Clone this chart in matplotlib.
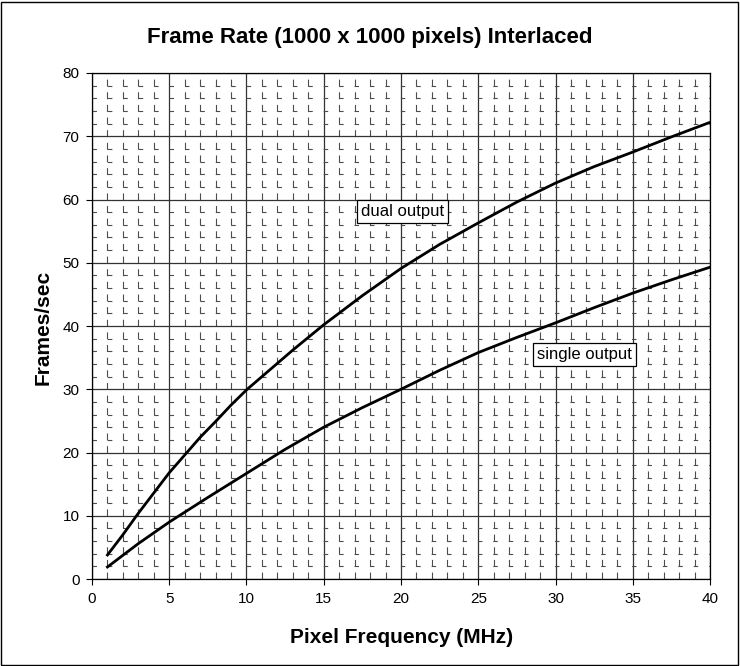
import matplotlib
matplotlib.use("Agg")
import matplotlib.pyplot as plt
from matplotlib.patches import Rectangle
from matplotlib.ticker import MultipleLocator

plt.rcParams["font.family"] = ["Liberation Sans", "DejaVu Sans"]
plt.rcParams["lines.scale_dashes"] = False

# Pixel frequency (MHz) and frame rates
freq_dual = [1, 2, 3, 4, 5, 6, 7, 8, 9, 10, 11, 12, 13, 14, 15,
             17.5, 20, 22.5, 25, 27.5, 30, 32.5, 35, 37.5, 40]
fps_dual = [3.8, 7.0, 10.4, 13.6, 16.8, 19.6, 22.4, 24.9, 27.5, 29.9, 32.0, 34.1,
            36.2, 38.2, 40.2, 44.8, 49.1, 52.9, 56.3, 59.6, 62.6, 65.2, 67.5,
            69.9, 72.2]

freq_single = [1, 3, 5, 7.5, 10, 12.5, 15, 17.5, 20, 22.5, 25, 27.5, 30,
               32.5, 35, 37.5, 40]
fps_single = [1.9, 5.6, 9.0, 12.9, 16.7, 20.5, 24.0, 27.1, 30.0, 33.0, 35.8,
              38.2, 40.5, 42.9, 45.2, 47.3, 49.3]

fig = plt.figure(figsize=(7.4, 6.66), dpi=100)
ax = fig.add_axes([0.1243, 0.1306, 0.8352, 0.7598])

ax.plot(freq_dual, fps_dual, color="black", linewidth=2.0, zorder=5,
        solid_joinstyle="round")
ax.plot(freq_single, fps_single, color="black", linewidth=2.0, zorder=5,
        solid_joinstyle="round")

ax.set_xlim(0, 40)
ax.set_ylim(0, 80)
ax.xaxis.set_major_locator(MultipleLocator(5))
ax.yaxis.set_major_locator(MultipleLocator(10))
ax.xaxis.set_minor_locator(MultipleLocator(1))
ax.yaxis.set_minor_locator(MultipleLocator(2))

# Excel-like dashed minor grid, dash period tied to the other axis spacing
ax.grid(which="minor", axis="x", color="#4d4d4d", linewidth=0.8,
        linestyle=(0, (5.0, 4.1)))
ax.grid(which="minor", axis="y", color="#4d4d4d", linewidth=0.8,
        linestyle=(0, (3.2, 7.9)))
ax.grid(which="major", color="#333333", linewidth=0.9, linestyle="-")
ax.set_axisbelow(True)

ax.tick_params(which="major", direction="out", length=4, width=0.8,
               labelsize=11, pad=5)
ax.tick_params(which="minor", length=0)
for s in ax.spines.values():
    s.set_color("black")
    s.set_linewidth(0.9)

fig.text(0.542, 0.0435, "Pixel Frequency (MHz)", ha="center", va="center",
         fontsize=15, fontweight="bold")
fig.text(0.0581, 0.509, "Frames/sec", ha="center", va="center", rotation=90,
         fontsize=15, fontweight="bold")
fig.text(0.5, 0.944, "Frame Rate (1000 x 1000 pixels) Interlaced",
         ha="center", va="center", fontsize=16, fontweight="bold")

box = dict(boxstyle="square,pad=0.25", facecolor="white", edgecolor="black",
           linewidth=0.9)
ax.text(20.1, 58.1, "dual output", fontsize=12, ha="center", va="center",
        bbox=box, zorder=6)
ax.text(31.9, 35.5, "single output", fontsize=12, ha="center", va="center",
        bbox=box, zorder=6)

fig.patches.append(Rectangle((0.002, 0.002), 0.995, 0.995, transform=fig.transFigure,
                             fill=False, edgecolor="black", linewidth=1.0))

fig.savefig("out.png", dpi=100)
